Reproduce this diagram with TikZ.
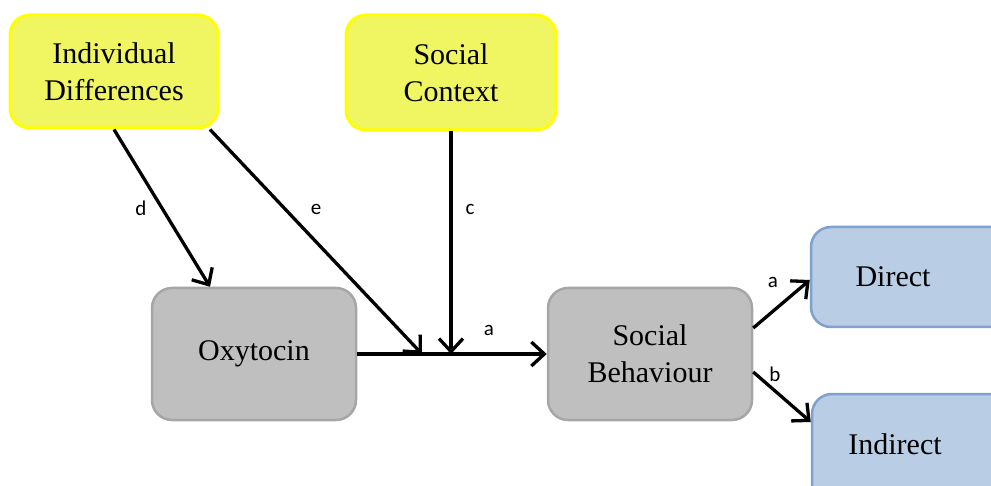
\documentclass[tikz,border=0pt]{standalone}
\usepackage{fontspec}
\setmainfont{Liberation Serif}
\newfontfamily\lblfont{Carlito}
\usepackage{tikz}
\usetikzlibrary{arrows.meta,positioning,calc}

\definecolor{yfill}{RGB}{240,245,98}
\definecolor{yline}{RGB}{255,255,0}
\definecolor{gfill}{RGB}{191,191,191}
\definecolor{gline}{RGB}{166,166,166}
\definecolor{bfill}{RGB}{185,205,229}
\definecolor{bline}{RGB}{128,160,208}

\tikzset{
    factorbox/.style={draw=yline, fill=yfill, line width=3pt, rounded corners=20pt,
        minimum width=208pt, minimum height=113pt, align=center, font=\fontsize{30}{37}\selectfont},
    mainbox/.style={draw=gline, fill=gfill, line width=2.5pt, rounded corners=20pt,
        minimum width=204pt, minimum height=132pt, align=center, font=\fontsize{30}{37}\selectfont},
    outbox/.style={draw=bline, fill=bfill, line width=2.5pt, rounded corners=20pt,
        minimum width=210pt, align=center, font=\fontsize{30}{37}\selectfont},
    path/.style={draw, line width=3.3pt, -{Straight Barb[length=13pt,width=24pt,line width=3.3pt]}},
    lbl/.style={font=\lblfont\fontsize{21}{24}\selectfont, inner sep=0pt}
}

\begin{document}
\begin{tikzpicture}[x=1pt,y=1pt,yscale=-1]
        \clip (0,0) rectangle (991,486);
        % Boxes
        \node[factorbox] (indiv) at (114,71.5) {Individual\\Differences};
        \node[factorbox, minimum width=210pt, minimum height=115pt] (context) at (451,72.5) {Social\\Context};
        \node[mainbox] (oxy) at (254,354) {Oxytocin};
        \node[mainbox] (behav) at (650,354) {Social\\Behaviour};
        \node[outbox, minimum height=100pt, label={[font=\fontsize{30}{37}\selectfont, xshift=-23pt]center:Direct}] (direct) at (916,277) {};
        \node[outbox, minimum height=110pt, label={[font=\fontsize{30}{37}\selectfont, xshift=-22pt, yshift=5pt]center:Indirect}] (indirect) at (917,449) {};
        % Meeting points on path a
        \coordinate (emeet) at (422,354);
        \coordinate (cmeet) at (451,354);
        % Connectors
        \draw[path] (oxy.east) -- (behav.west);
        \draw[path] (indiv.south) -- ([xshift=-44pt]oxy.north);
        \draw[path] ([xshift=96pt]indiv.south) -- (emeet);
        \draw[path] (context.south) -- (cmeet);
        \draw[path] ([yshift=-26pt]behav.east) -- ([yshift=3pt]direct.west);
        \draw[path] ([yshift=18pt]behav.east) -- ([yshift=-27pt]indirect.west);
        % Text Node
        \node[lbl] (ld) at (141,208) {d};
        \node[lbl] (le) at (316,209) {e};
        \node[lbl] (lc) at (470,209) {c};
        \node[lbl] (la) at (489,330) {a};
        \node[lbl] (lda) at (773,282) {a};
        \node[lbl] (lib) at (775,374) {b};
\end{tikzpicture}
\end{document}
